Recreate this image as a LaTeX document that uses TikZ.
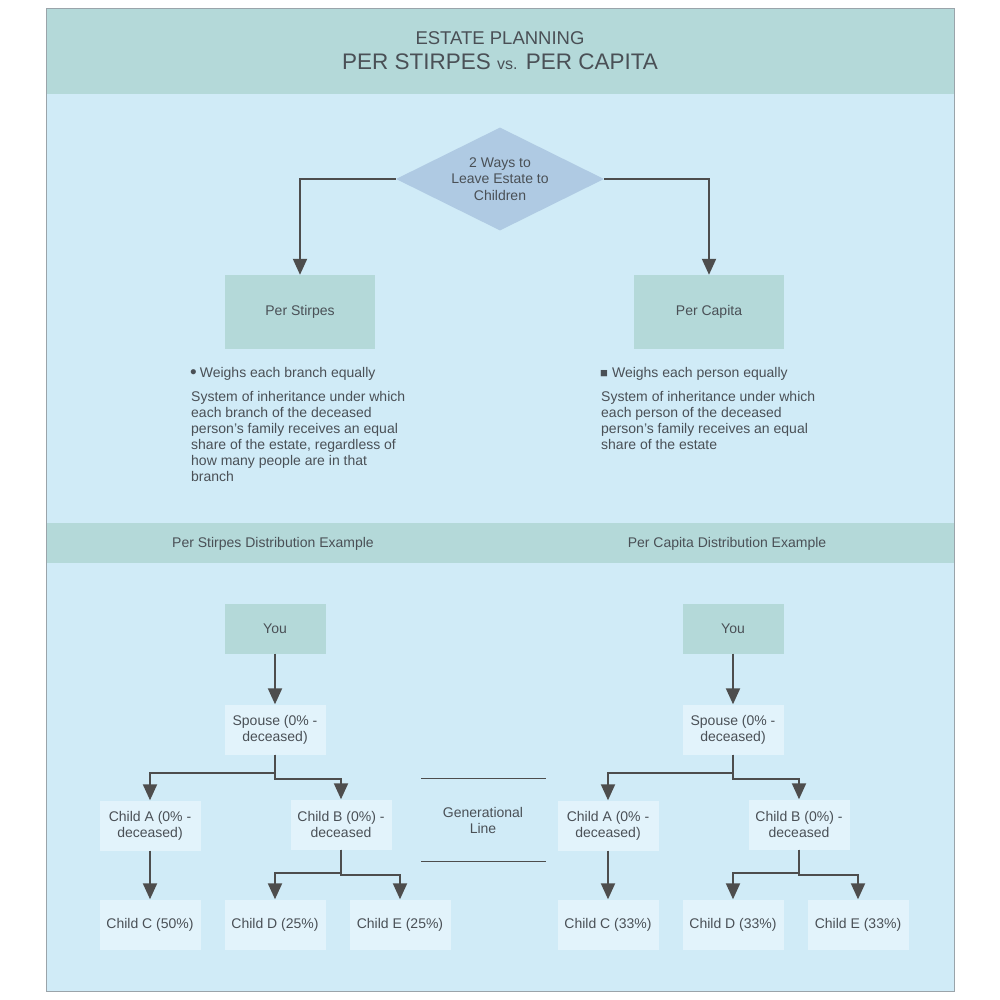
\documentclass[tikz,border=0pt]{standalone}
\usepackage{fontspec}
\setmainfont{Liberation Sans}
\usetikzlibrary{arrows.meta,shapes.geometric}
\definecolor{band}{HTML}{B4D9D9}
\definecolor{bg}{HTML}{D0EBF7}
\definecolor{light}{HTML}{E2F3FB}
\definecolor{dia}{HTML}{AFCAE3}
\definecolor{ink}{HTML}{4D4D4D}
\definecolor{txt}{HTML}{4A5056}
\definecolor{frame}{HTML}{9AA4AA}
\begin{document}
\begin{tikzpicture}[x=1pt,y=-1pt,
  body/.style={font=\fontsize{14}{16}\selectfont, text=txt},
  box/.style={body, draw=none, minimum width=101pt, minimum height=50pt, inner sep=0pt, align=center},
  darkbox/.style={box, fill=band},
  lightbox/.style={box, fill=light},
  conn/.style={draw=ink, line width=2pt, -{Triangle[width=14pt,length=16pt]}},
  genline/.style={draw=ink, line width=1pt},
]
\useasboundingbox[fill=white] (0,0) rectangle (1000,1000);
% frame and bands
\path[fill=bg, draw=frame, line width=1pt] (46,9) rectangle (954,991);
\path[fill=band] (46.5,9.5) rectangle (953.5,94);
\path[fill=band] (46.5,523) rectangle (953.5,563);
\node[text=txt, inner sep=0pt, font=\fontsize{18.5}{20}\selectfont] (title1) at (500,38) {ESTATE PLANNING};
\node[text=txt, inner sep=0pt, font=\fontsize{22.5}{24}\selectfont] (title2) at (500,62)
  {PER STIRPES {\fontsize{16}{16}\selectfont vs.} PER CAPITA};
\node[body, inner sep=0pt] (bandL) at (273,543.5) {Per Stirpes Distribution Example};
\node[body, inner sep=0pt] (bandR) at (727,543.5) {Per Capita Distribution Example};

% top decision
\node[shape=diamond, aspect=2, fill=dia, inner sep=0pt, minimum width=208pt, minimum height=103pt,
      body, align=center, font=\fontsize{14}{16.5}\selectfont] (dia) at (500,179)
  {2 Ways to\\Leave Estate to\\Children};
\node[darkbox, minimum width=150pt, minimum height=74pt] (ps) at (300,312) {Per Stirpes};
\node[darkbox, minimum width=150pt, minimum height=74pt] (pc) at (709,312) {Per Capita};
\draw[conn] (dia.west) -| (ps.north);
\draw[conn] (dia.east) -| (pc.north);

% descriptions
\node[body, anchor=base west, inner sep=0pt] (bl) at (190,377)
  {\raisebox{-1.5pt}{\fontsize{19}{19}\selectfont •}\hspace{3pt}Weighs each branch equally};
\node[body, anchor=north west, inner sep=0pt, align=left] (pl) at (191,391)
  {System of inheritance under which\\each branch of the deceased\\person's family receives an equal\\share of the estate, regardless of\\how many people are in that\\branch};
\node[body, anchor=base west, inner sep=0pt] (br) at (600,377)
  {{\fontsize{13}{13}\selectfont ■}\hspace{4pt}Weighs each person equally};
\node[body, anchor=north west, inner sep=0pt, align=left] (pr) at (601,391)
  {System of inheritance under which\\each person of the deceased\\person's family receives an equal\\share of the estate};

% left tree
\node[darkbox] (youL) at (275,628.5) {You};
\node[lightbox] (spL) at (275,729.5) {Spouse (0\% -\\deceased)};
\node[lightbox] (aL) at (150,825.5) {Child A (0\% -\\deceased)};
\node[lightbox] (bL) at (341,824.5) {Child B (0\%) -\\deceased};
\node[lightbox] (cL) at (150,924.5) {Child C (50\%)};
\node[lightbox] (dL) at (275,924.5) {Child D (25\%)};
\node[lightbox] (eL) at (400,924.5) {Child E (25\%)};
\draw[conn] (youL.south) -- (spL.north);
\draw[conn] (spL.south) -- ++(0,18) -| (aL.north);
\draw[conn] (spL.south) -- ++(0,24) -| (bL.north);
\draw[conn] (aL.south) -- (cL.north);
\draw[conn] (bL.south) -- ++(0,23) -| (dL.north);
\draw[conn] (bL.south) -- ++(0,25) -| (eL.north);

% right tree
\node[darkbox] (youR) at (733,628.5) {You};
\node[lightbox] (spR) at (733,729.5) {Spouse (0\% -\\deceased)};
\node[lightbox] (aR) at (608,825.5) {Child A (0\% -\\deceased)};
\node[lightbox] (bR) at (799,824.5) {Child B (0\%) -\\deceased};
\node[lightbox] (cR) at (608,924.5) {Child C (33\%)};
\node[lightbox] (dR) at (733,924.5) {Child D (33\%)};
\node[lightbox] (eR) at (858,924.5) {Child E (33\%)};
\draw[conn] (youR.south) -- (spR.north);
\draw[conn] (spR.south) -- ++(0,18) -| (aR.north);
\draw[conn] (spR.south) -- ++(0,24) -| (bR.north);
\draw[conn] (aR.south) -- (cR.north);
\draw[conn] (bR.south) -- ++(0,23) -| (dR.north);
\draw[conn] (bR.south) -- ++(0,25) -| (eR.north);

% generational line
\coordinate (g1a) at (421,778); \coordinate (g1b) at (546,778);
\coordinate (g2a) at (421,861); \coordinate (g2b) at (546,861);
\draw[genline] (g1a) -- (g1b);
\draw[genline] (g2a) -- (g2b);
\node[body, align=center, inner sep=0pt] (gen) at (483,820.5) {Generational\\Line};
\end{tikzpicture}
\end{document}
